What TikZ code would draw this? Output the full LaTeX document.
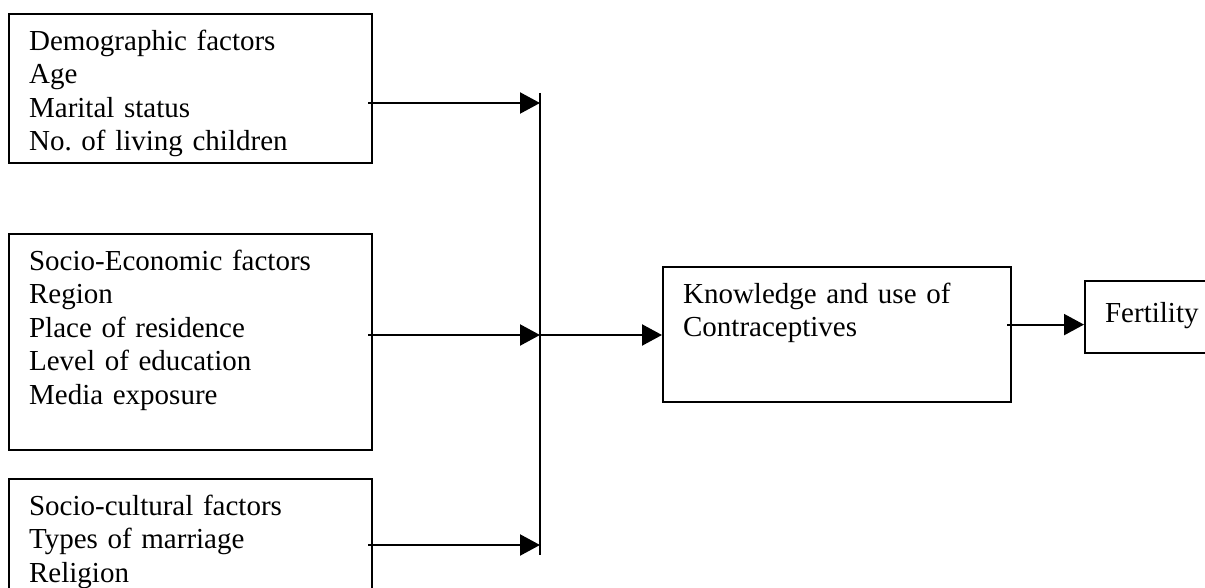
\documentclass[tikz,border=0pt]{standalone}
\usepackage{fontspec}
\setmainfont{Liberation Serif}
\frenchspacing
\usetikzlibrary{arrows.meta, calc, math}

\begin{document}
\begin{tikzpicture}[x=1pt, y=-1pt,
  factor/.style={draw, line width=2.2pt, anchor=north west, align=left,
    text width=#1, text height=20pt, inner xsep=20pt, inner ysep=16pt,
    font=\fontsize{29}{33.5}\selectfont},
  link/.style={line width=2.2pt, -{Triangle[length=20pt,width=21pt]}}
]

\tikzmath{
\bw = 323;% text width of the factor boxes
\bus = 540;% x of the joining line
}

\useasboundingbox (0,0) rectangle (1205,588);

\node[factor=\bw, text depth=97pt] (demo) at (8,13)
  {Demographic factors\\Age\\Marital status\\No. of living children};
\node[factor=\bw, text depth=164pt] (econ) at (8,233)
  {Socio-Economic factors\\Region\\Place of residence\\Level of education\\Media exposure};
\node[factor=\bw, text depth=90pt] (cult) at (8,478)
  {Socio-cultural factors\\Types of marriage\\Religion};
\node[factor=308, text depth=83pt] (know) at (662,266)
  {Knowledge and use of\\Contraceptives};
\node[factor=130, text height=25pt, text depth=15pt] (fert) at (1084,280) {Fertility};

\coordinate (j1) at (\bus,103);
\coordinate (j2) at (\bus,335);
\coordinate (j3) at (\bus,545);

\foreach \b/\j in {demo/j1, econ/j2, cult/j3}{
\draw [link] ($(\b.east |- \j)+(-5,0)$) -- (\j);
}
\draw [line width=2.2pt] ($(j1)+(0,-10)$) -- ($(j3)+(0,10)$);
\draw [link] (j2) -- (know.west |- j2);

\coordinate (out) at ($(know.east)+(-5,-10)$);
\draw [link] (out) -- (fert.west |- out);

\end{tikzpicture}
\end{document}
